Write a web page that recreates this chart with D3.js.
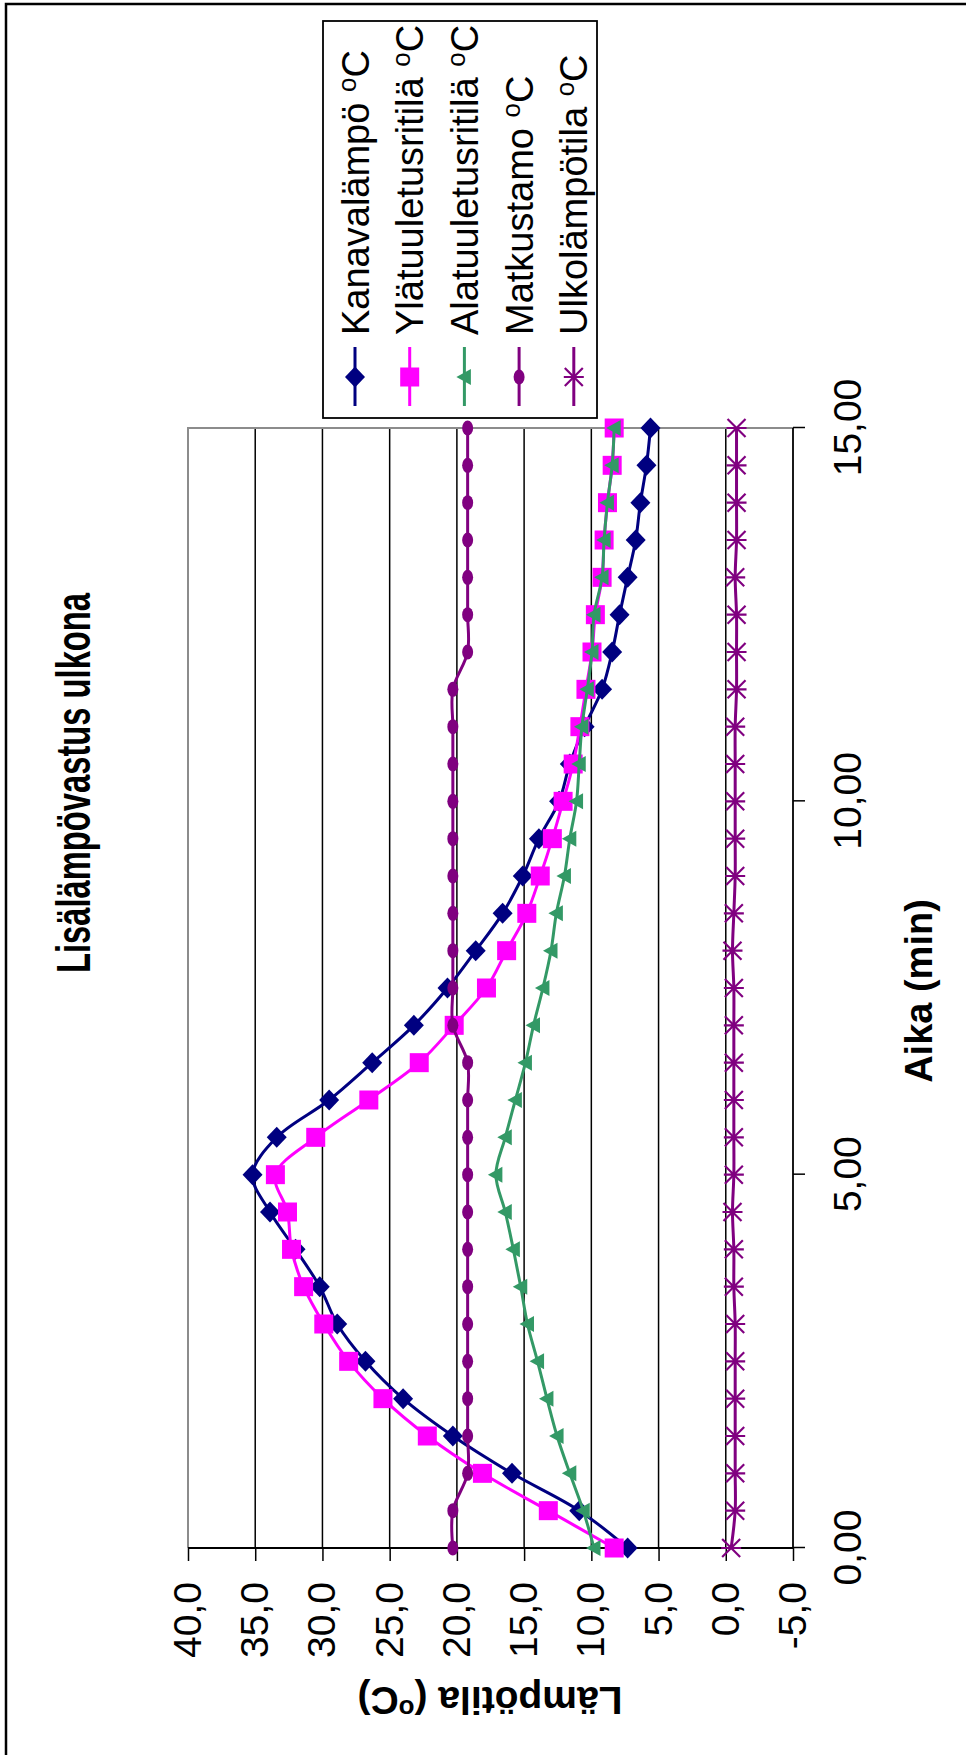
<!DOCTYPE html>
<html>
<head>
<meta charset="utf-8">
<script src="https://cdn.jsdelivr.net/npm/d3@7"></script>
<style>
  body { margin: 0; background: #fff; }
  svg { display: block; font-family: "Liberation Sans", Arial, sans-serif; }
</style>
</head>
<body>
<div id="chart"></div>
<script>
// Time in minutes (categories)
const times = [0, 0.5, 1, 1.5, 2, 2.5, 3, 3.5, 4, 4.5, 5, 5.5, 6, 6.5, 7, 7.5,
  8, 8.5, 9, 9.5, 10, 10.5, 11, 11.5, 12, 12.5, 13, 13.5, 14, 14.5, 15];

// Series values (°C)
const kanava = [7.3, 10.9, 15.9, 20.3, 24.0, 26.8, 28.9, 30.2, 32.0, 33.9, 35.2,
  33.4, 29.5, 26.3, 23.2, 20.7, 18.6, 16.6, 15.1, 13.9, 12.4, 11.6, 10.5, 9.2,
  8.45, 7.9, 7.3, 6.7, 6.35, 5.9, 5.6];
const ylatuuletus = [8.3, 13.2, 18.1, 22.2, 25.5, 28.05, 29.9, 31.4, 32.3, 32.6, 33.5,
  30.5, 26.55, 22.8, 20.2, 17.8, 16.3, 14.8, 13.8, 12.9, 12.1, 11.35, 10.85, 10.4,
  9.95, 9.7, 9.2, 9.05, 8.8, 8.45, 8.3];
const alatuuletus = [9.8, 10.6, 11.6, 12.55, 13.3, 14.0, 14.75, 15.25, 15.8, 16.4, 17.1,
  16.4, 15.65, 14.9, 14.3, 13.6, 13.0, 12.6, 12.0, 11.6, 11.1, 10.9, 10.7, 10.3,
  9.95, 9.8, 9.2, 9.05, 8.8, 8.45, 8.3];
const matkustamo = [20.3, 20.3, 19.2, 19.2, 19.2, 19.2, 19.2, 19.2, 19.2, 19.2, 19.2,
  19.2, 19.2, 19.2, 20.3, 20.3, 20.3, 20.3, 20.3, 20.3, 20.3, 20.3, 20.3, 20.3,
  19.2, 19.2, 19.2, 19.2, 19.2, 19.2, 19.2];
const ulko = [-0.4, -0.7, -0.7, -0.7, -0.7, -0.7, -0.7, -0.6, -0.6, -0.5, -0.6,
  -0.6, -0.6, -0.6, -0.6, -0.6, -0.5, -0.6, -0.7, -0.7, -0.7, -0.7, -0.7, -0.8,
  -0.8, -0.8, -0.7, -0.8, -0.8, -0.8, -0.8];

const seriesNames = ["Kanavalämpö", "Ylätuuletusritilä", "Alatuuletusritilä", "Matkustamo", "Ulkolämpötila"];
const seriesColors = ["#000080", "#ff00ff", "#339966", "#800080", "#800080"];
const seriesMarkers = ["diamond", "square", "triangle", "circle", "star"];
const seriesValues = [kanava, ylatuuletus, alatuuletus, matkustamo, ulko];

const timeTicks = [0, 5, 10, 15];
const valueTicks = [-5, 0, 5, 10, 15, 20, 25, 30, 35, 40];

const pageW = 966, pageH = 1755;

const svg = d3.select("#chart").append("svg")
  .attr("width", pageW)
  .attr("height", pageH);

svg.append("rect").attr("width", pageW).attr("height", pageH).attr("fill", "#fff");

// The chart is drawn lying on its side: build it normally, then turn it
const g = svg.append("g")
  .attr("transform", `translate(0,${pageH}) rotate(-90)`);

// Scales (unrotated coordinates)
const x = d3.scaleLinear().domain([0, 15]).range([207, 1327]);
const y = d3.scaleLinear().domain([-5, 40]).range([793, 188]);

const commaFmt = f => d => d3.format(f)(d).replace(".", ",").replace("\u2212", "-");

// Gridlines
g.append("g")
  .selectAll("line")
  .data(valueTicks.filter(v => v > -5 && v < 40))
  .join("line")
  .attr("x1", x(0)).attr("x2", x(15))
  .attr("y1", d => y(d)).attr("y2", d => y(d))
  .attr("stroke", "#000")
  .attr("stroke-width", 1.5);

// Plot area border (gray top and right)
g.append("path")
  .attr("d", `M${x(0)},${y(40)} H${x(15)} V${y(-5)}`)
  .attr("fill", "none")
  .attr("stroke", "#8c8c8c")
  .attr("stroke-width", 2);

// Value axis (at t = 0)
const yAxis = g.append("g")
  .attr("transform", `translate(${x(0)},0)`)
  .call(d3.axisLeft(y)
    .tickValues(valueTicks)
    .tickSize(13)
    .tickPadding(21)
    .tickFormat(commaFmt(".1f")));
yAxis.select(".domain").attr("stroke-width", 1.8).attr("d", `M0,${y(40)}V${y(-5)}`);
yAxis.selectAll(".tick line").attr("stroke-width", 1.5);
yAxis.selectAll(".tick text")
  .attr("font-size", 39)
  .attr("font-family", "Liberation Sans, Arial, sans-serif")
  .attr("fill", "#000");

// Time axis (at -5)
const xAxis = g.append("g")
  .attr("transform", `translate(0,${y(-5)})`)
  .call(d3.axisBottom(x)
    .tickValues(timeTicks)
    .tickSize(12)
    .tickPadding(28)
    .tickFormat(commaFmt(".2f")));
xAxis.select(".domain").attr("stroke-width", 1.8).attr("d", `M${x(0)},0H${x(15)}`);
xAxis.selectAll(".tick line").attr("stroke-width", 1.5);
xAxis.selectAll(".tick text")
  .attr("font-size", 39)
  .attr("font-family", "Liberation Sans, Arial, sans-serif")
  .attr("fill", "#000");

// Marker drawing
function drawMarker(sel, type, color) {
  if (type === "diamond") {
    sel.append("path").attr("d", "M0,-10 L10.5,0 L0,10 L-10.5,0Z").attr("fill", color);
  } else if (type === "square") {
    sel.append("rect").attr("x", -9.5).attr("y", -9.5).attr("width", 19).attr("height", 19).attr("fill", color);
  } else if (type === "triangle") {
    sel.append("path").attr("d", "M0,-8 L8,6.5 L-8,6.5Z").attr("fill", color);
  } else if (type === "circle") {
    sel.append("ellipse").attr("rx", 7.5).attr("ry", 5.5).attr("fill", color);
  } else if (type === "star") {
    sel.append("path")
      .attr("d", "M-9,-9 L9,9 M-9,9 L9,-9 M0,-10 L0,10")
      .attr("stroke", color).attr("stroke-width", 2.2).attr("fill", "none");
  }
}

const line = d3.line()
  .x(d => x(d[0]))
  .y(d => y(d[1]))
  .curve(d3.curveCatmullRom.alpha(0.5));

seriesValues.forEach((vals, i) => {
  const pts = times.map((t, j) => [t, vals[j]]);
  const sg = g.append("g");
  sg.append("path")
    .attr("d", line(pts))
    .attr("fill", "none")
    .attr("stroke", seriesColors[i])
    .attr("stroke-width", 3);
  sg.selectAll("g.m")
    .data(pts)
    .join("g")
    .attr("class", "m")
    .attr("transform", d => `translate(${x(d[0])},${y(d[1])})`)
    .each(function() { drawMarker(d3.select(this), seriesMarkers[i], seriesColors[i]); });
});

// Titles
g.append("text")
  .attr("x", 782).attr("y", 90)
  .attr("font-size", 48).attr("font-weight", "bold")
  .attr("textLength", 380)
  .attr("lengthAdjust", "spacingAndGlyphs")
  .text("Lisälämpövastus ulkona");

g.append("text")
  .attr("x", 764).attr("y", 932)
  .attr("text-anchor", "middle")
  .attr("font-size", 38).attr("font-weight", "bold")
  .text("Aika (min)");

const yTitle = g.append("text")
  .attr("transform", "translate(68,490) rotate(-90)")
  .attr("text-anchor", "middle")
  .attr("font-size", 39).attr("font-weight", "bold");
yTitle.append("tspan").text("Lämpötila (");
yTitle.append("tspan").attr("font-size", 26).attr("dy", -13).text("o");
yTitle.append("tspan").attr("dy", 13).text("C)");

// Legend
const legend = g.append("g");
legend.append("rect")
  .attr("x", 1337).attr("y", 323)
  .attr("width", 397).attr("height", 274)
  .attr("fill", "#fff")
  .attr("stroke", "#000")
  .attr("stroke-width", 1.8);

seriesNames.forEach((name, i) => {
  const ry = 355 + i * 54.7;
  const row = legend.append("g");
  row.append("line")
    .attr("x1", 1349).attr("x2", 1408)
    .attr("y1", ry).attr("y2", ry)
    .attr("stroke", seriesColors[i]).attr("stroke-width", 3);
  const m = row.append("g").attr("transform", `translate(1378,${ry})`);
  drawMarker(m, seriesMarkers[i], seriesColors[i]);
  const t = row.append("text")
    .attr("x", 1420).attr("y", ry).attr("dy", "0.36em")
    .attr("font-size", 38);
  t.append("tspan").text(name + " ");
  t.append("tspan").attr("font-size", 26).attr("dy", -13).text("o");
  t.append("tspan").attr("dy", 13).text("C");
});

// Outer frame (top and left edges visible)
svg.append("path")
  .attr("d", `M6,${pageH} V4 H${pageW}`)
  .attr("fill", "none")
  .attr("stroke", "#000")
  .attr("stroke-width", 2.5);
</script>
</body>
</html>
